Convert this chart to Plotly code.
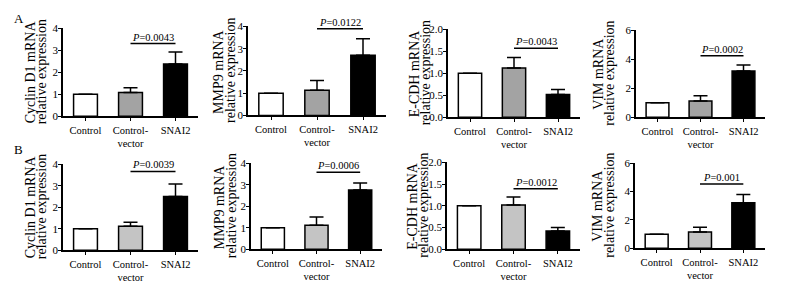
import plotly.graph_objects as go

# page body has an 8px margin: figure is laid out in window pixels minus that offset
OFF = 8
W, H = 791 - OFF, 284 - OFF

categories = ["Control", "Control-<br>vector", "SNAI2"]
title_line1 = ["Cyclin D1 mRNA", "MMP9 mRNA", "E-CDH mRNA", "VIM mRNA"]
title_line2 = "relative expression"
y_max = [4, 4, 2, 6]
y_dtick = [1, 1, 0.5, 2]

# Row A
means_A = [[1.0, 1.08, 2.38], [1.0, 1.13, 2.70], [1.0, 1.12, 0.52], [1.0, 1.12, 3.20]]
errs_A = [[0.0, 0.22, 0.54], [0.0, 0.44, 0.75], [0.0, 0.24, 0.11], [0.0, 0.36, 0.40]]
pvals_A = ["0.0043", "0.0122", "0.0043", "0.0002"]
pline_A = [3.31, 3.90, 1.57, 4.24]

# Row B
means_B = [[1.0, 1.12, 2.50], [1.0, 1.12, 2.75], [1.0, 1.02, 0.42], [1.0, 1.15, 3.22]]
errs_B = [[0.0, 0.18, 0.58], [0.0, 0.38, 0.33], [0.0, 0.18, 0.08], [0.0, 0.33, 0.58]]
pvals_B = ["0.0039", "0.0006", "0.0012", "0.001"]
pline_B = [3.66, 3.58, 1.39, 4.54]

# layout boxes in window pixels: (x0, x1, ytop, ybottom)
boxes_A = [(63, 198, 23, 115), (248, 386, 21, 114), (448, 580, 24, 116), (636, 765, 25, 116)]
boxes_B = [(63, 198, 165, 255), (251, 382, 164, 254), (447, 580, 163, 254), (635, 765, 164, 253)]
title_x_A = [(30, 41), (219, 231), (414, 425), (599, 610)]
title_x_B = [(30, 41), (219, 231), (413, 424), (598, 610)]


def px(x):
    return (x - OFF) / W


def py(y):
    return 1 - (y - OFF) / H


FONT = "Liberation Serif, Times New Roman, serif"
fig = go.Figure()
layout = {}
annotations = []
shapes = []

rows = [(means_A, errs_A, pvals_A, pline_A, boxes_A, title_x_A, "#a3a3a3"),
        (means_B, errs_B, pvals_B, pline_B, boxes_B, title_x_B, "#c4c4c4")]

k = 0
for means, errs, pvals, plines, boxes, tx, gray in rows:
    for i in range(4):
        k += 1
        xa = "x" if k == 1 else f"x{k}"
        ya = "y" if k == 1 else f"y{k}"
        x0, x1, yt, yb = boxes[i]
        fig.add_trace(go.Bar(
            x=categories, y=means[i], xaxis=xa, yaxis=ya,
            width=0.53,
            marker=dict(color=["white", gray, "black"], line=dict(color="black", width=1.5)),
            error_y=dict(type="data", symmetric=False, array=errs[i], arrayminus=[0, 0, 0],
                         color="black", thickness=1.5, width=7, visible=True),
            showlegend=False, hoverinfo="skip",
        ))
        xkey = "xaxis" if k == 1 else f"xaxis{k}"
        ykey = "yaxis" if k == 1 else f"yaxis{k}"
        layout[xkey] = dict(
            domain=[px(x0), px(x1)], anchor=ya, range=[-0.5, 2.5],
            showline=True, linecolor="black", linewidth=1.5,
            ticks="outside", ticklen=3, tickwidth=1.2, tickcolor="black",
            tickfont=dict(family=FONT, size=10.5, color="black"),
            showgrid=False, zeroline=False, fixedrange=True,
        )
        layout[ykey] = dict(
            domain=[py(yb), py(yt)], anchor=xa, range=[0, y_max[i]],
            dtick=y_dtick[i], tickformat=".1f" if y_max[i] == 2 else "d",
            showline=True, linecolor="black", linewidth=1.5,
            ticks="outside", ticklen=3, tickwidth=1.2, tickcolor="black",
            ticklabelstandoff=-2,
            tickfont=dict(family=FONT, size=11, color="black"),
            showgrid=False, zeroline=False, fixedrange=True,
        )
        ymid = py((yt + yb) / 2)
        annotations.append(dict(xref="paper", yref="paper", x=px(tx[i][0]), y=ymid,
                                xanchor="center", yanchor="middle", textangle=-90,
                                text=title_line1[i], showarrow=False,
                                font=dict(family=FONT, size=14, color="black")))
        annotations.append(dict(xref="paper", yref="paper", x=px(tx[i][1]), y=ymid,
                                xanchor="center", yanchor="middle", textangle=-90,
                                text=title_line2, showarrow=False,
                                font=dict(family=FONT, size=14, color="black")))
        shapes.append(dict(type="line", xref=xa, yref=ya, x0=1, x1=2, y0=plines[i], y1=plines[i],
                           line=dict(color="black", width=1.5)))
        annotations.append(dict(xref=xa, yref=ya, x=1.5, y=plines[i], yanchor="bottom",
                                text=f"<i>P</i>={pvals[i]}", showarrow=False, yshift=-1,
                                font=dict(family=FONT, size=10.5, color="black")))

annotations.append(dict(xref="paper", yref="paper", x=px(12), y=py(13), xanchor="left", yanchor="middle",
                        text="A", showarrow=False, font=dict(family=FONT, size=13, color="black")))
annotations.append(dict(xref="paper", yref="paper", x=px(12), y=py(150), xanchor="left", yanchor="middle",
                        text="B", showarrow=False, font=dict(family=FONT, size=13, color="black")))

fig.update_layout(
    width=W, height=H, margin=dict(l=0, r=0, t=0, b=0),
    paper_bgcolor="white", plot_bgcolor="white",
    annotations=annotations, shapes=shapes, bargap=0.4,
    **layout,
)
fig.write_html("out.html")
